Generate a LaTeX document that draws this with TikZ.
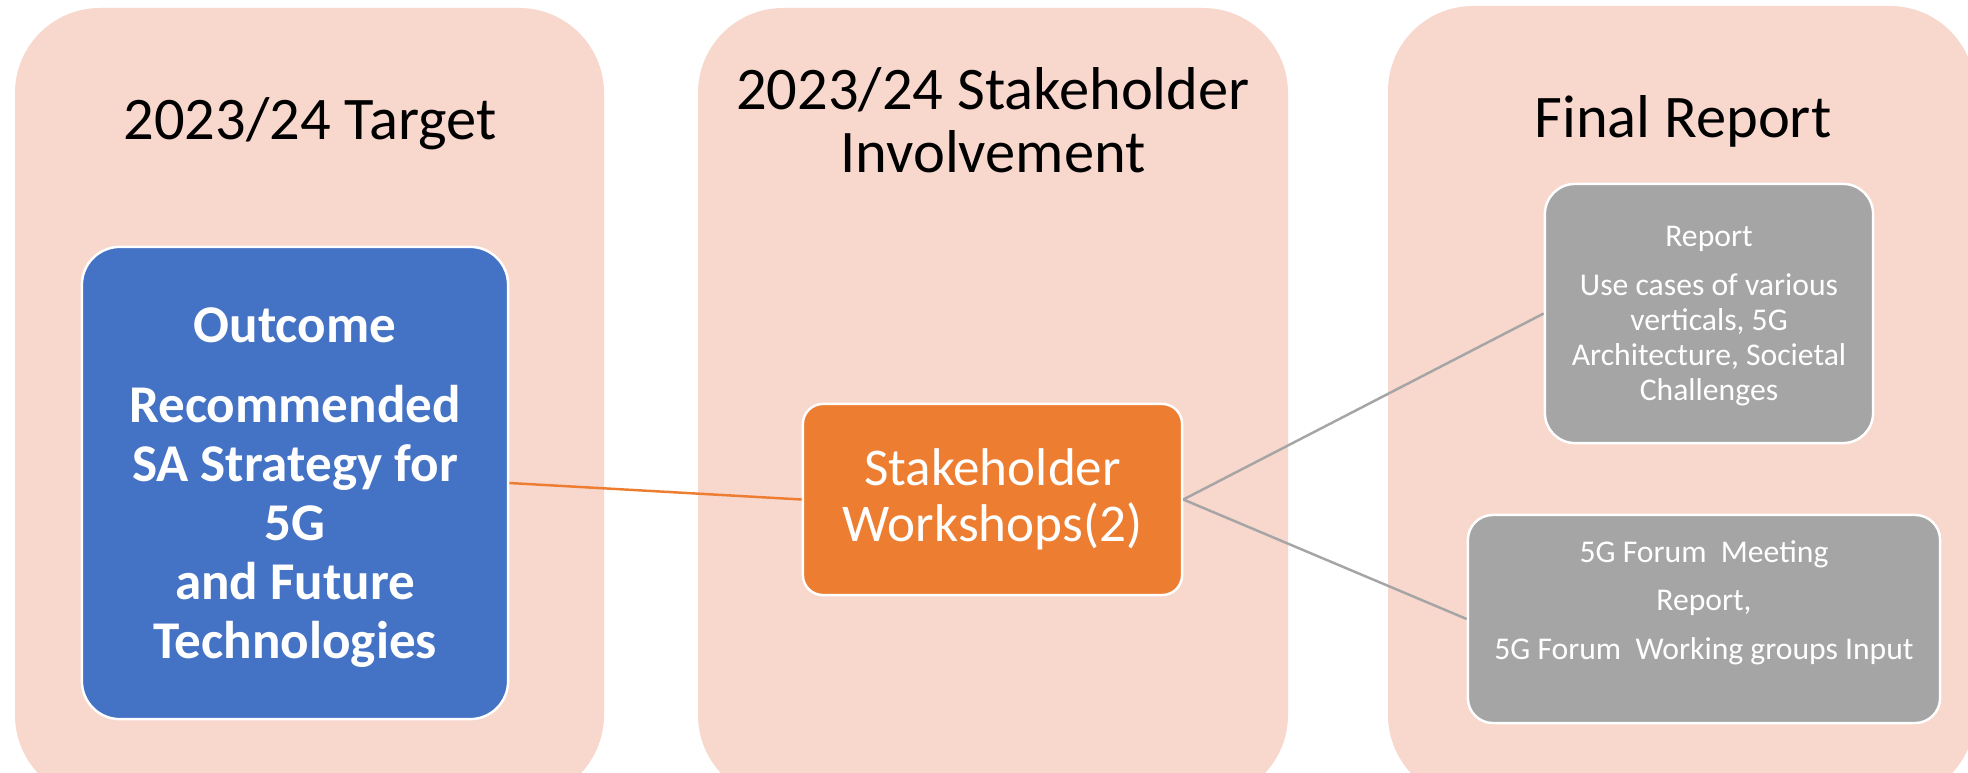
\documentclass[tikz,border=0pt]{standalone}
\usepackage{fontspec}
\setmainfont{Carlito}
\usetikzlibrary{calc}
\definecolor{panelpink}{RGB}{248,215,205}
\definecolor{outblue}{RGB}{68,114,196}
\definecolor{workorange}{RGB}{237,125,49}
\definecolor{repgrey}{RGB}{165,165,165}
\tikzset{
	panel/.style={fill=panelpink, draw=none, rounded corners=8.5mm},
	paneltitle/.style={align=center, font=\fontsize{17.2}{18}\selectfont},
	outbox/.style={draw=white, line width=0.7pt, fill=outblue, text=white, rounded corners=3.8mm, align=center, minimum width=4.26cm, minimum height=4.72cm, font=\fontsize{15.1}{16.8}\selectfont\bfseries},
	workbox/.style={draw=white, line width=0.7pt, fill=workorange, text=white, rounded corners=2mm, align=center, minimum width=3.79cm, minimum height=1.91cm, font=\fontsize{15.1}{16}\selectfont},
	repbox/.style={draw=white, line width=0.7pt, fill=repgrey, text=white, rounded corners=3mm, align=center},
	link/.style={line width=0.7pt}
}

\begin{document}
\begin{tikzpicture}[x=0.01cm, y=-0.01cm]
			%%%%% START %%%%%
			
			\clip (0, 0) rectangle (1968, 773);
			\fill[white] (0, 0) rectangle (1968, 773);
			
			\draw[panel] (15, 8) rectangle (604, 800);
			\draw[panel] (698, 8) rectangle (1288, 800);
			\draw[panel] (1388, 6) rectangle (1975, 800);
			
			\node[paneltitle] (target) at (310, 124) {2023/24 Target};
			\node[paneltitle] (involve) at (993, 120) {2023/24 Stakeholder\\Involvement};
			\node[paneltitle] (final) at (1683, 121) {Final Report};
			
			\node[outbox] (outcome) at (295, 483) {\mbox{}\\[-4.4pt]Outcome\\[6pt]Recommended\\SA Strategy for\\5G\\and Future\\Technologies};
			
			\node[workbox] (workshops) at (992.5, 499.5) {Stakeholder\\Workshops(2)};
			
			\node[repbox, minimum width=3.28cm, minimum height=2.59cm, font=\fontsize{9}{10}\selectfont] (report) at (1709, 313.5) {\mbox{}\\[-2.8pt]Report\\[4pt]Use cases of various\\verticals, 5G\\Architecture,\ Societal\\Challenges};
			\node[repbox, minimum width=4.72cm, minimum height=2.08cm, rounded corners=2.5mm, font=\fontsize{9}{13.8}\selectfont] (forum) at (1704, 619) {5G Forum\ \ Meeting\\Report,\\5G Forum\ \ Working\ groups\ Input\\[-3pt]\mbox{}};
			
			\draw[link, workorange] (outcome.east) -- (workshops.west);
			\draw[link, repgrey] (workshops.east) -- (report.west);
			\draw[link, repgrey] (workshops.east) -- (forum.west);
			
			%%%%% END %%%%%
		\end{tikzpicture}
\end{document}
